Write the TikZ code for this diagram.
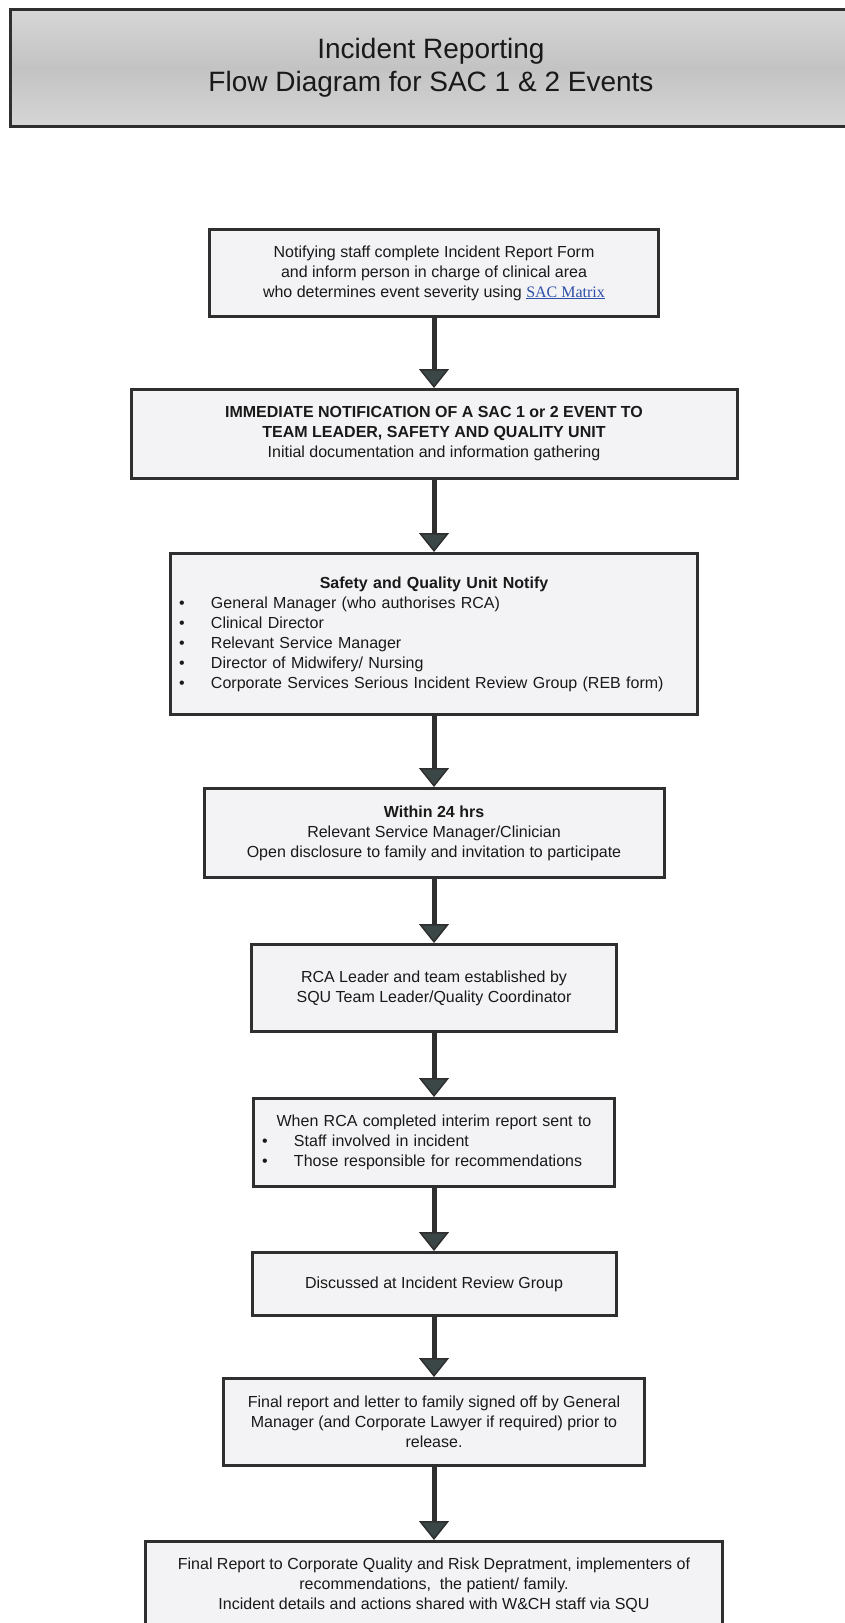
\documentclass[tikz,border=0pt]{standalone}
\usepackage{fontspec}
\setmainfont{Liberation Sans}
\newfontfamily\linkfont{Liberation Serif}
\usetikzlibrary{arrows.meta,positioning}

\definecolor{boxline}{HTML}{2F2F2F}
\definecolor{boxfill}{HTML}{F3F3F5}
\definecolor{titlegray}{HTML}{C3C3C3}
\definecolor{titlelight}{HTML}{D6D6D6}
\definecolor{headfill}{HTML}{3B4646}
\definecolor{linkblue}{HTML}{2E4FA8}

\newcommand{\bul}{\makebox[32pt][l]{\textbullet}}

\begin{document}
\begin{tikzpicture}[
      stage/.style={
        rectangle,
        draw=boxline,
        line width=3pt,
        fill=boxfill,
        align=center,
        font=\fontsize{16}{20}\selectfont,
        text=black!90
      },
      flow/.style={
        line width=5pt,
        draw=boxline,
        -{Triangle[width=30pt,length=19pt,fill=headfill,line width=1.5pt]}
      }
    ]

    \useasboundingbox (0,0) rectangle (845pt,-1623pt);
    \clip (0,0) rectangle (845pt,-1623pt);

    % Title
    \node[stage, anchor=north west, minimum width=841pt, minimum height=117pt,
      top color=titlelight, bottom color=titlelight, middle color=titlegray,
      font=\fontsize{28}{33}\selectfont] (Title) at (9pt,-8pt)
      {Incident Reporting\\Flow Diagram for SAC 1 \& 2 Events};

    % Steps
    \node[stage, minimum width=449pt, minimum height=87pt, anchor=north] (Report) at (434pt,-228pt)
      {Notifying staff complete Incident Report Form\\
       and inform person in charge of clinical area\\
       who determines event severity using {\linkfont\color{linkblue}\underline{SAC Matrix}}};
    \node[stage, minimum width=606pt, minimum height=89pt, anchor=north, yshift=-70pt] (Immediate) at (Report.south)
      {\textbf{IMMEDIATE NOTIFICATION OF A SAC 1 or 2 EVENT TO}\\
       \textbf{TEAM LEADER, SAFETY AND QUALITY UNIT}\\
       Initial documentation and information gathering};
    \node[stage, minimum width=527pt, minimum height=161pt, text width=510pt, align=left, anchor=north, yshift=-72pt] (SQUNotify) at (Immediate.south)
      {\centerline{\textbf{Safety and Quality Unit Notify}}
       \bul General Manager (who authorises RCA)\\
       \bul Clinical Director\\
       \bul Relevant Service Manager\\
       \bul Director of Midwifery/ Nursing\\
       \bul Corporate Services Serious Incident Review Group (REB form)};
    \node[stage, minimum width=460pt, minimum height=89pt, anchor=north, yshift=-71pt] (Disclose) at (SQUNotify.south)
      {\textbf{Within 24 hrs}\\
       Relevant Service Manager/Clinician\\
       Open disclosure to family and invitation to participate};
    \node[stage, minimum width=365pt, minimum height=87pt, anchor=north, yshift=-64pt] (RCATeam) at (Disclose.south)
      {RCA Leader and team established by\\
       SQU Team Leader/Quality Coordinator};
    \node[stage, minimum width=361pt, minimum height=88pt, text width=344pt, align=left, anchor=north, yshift=-64pt] (Interim) at (RCATeam.south)
      {\centerline{When RCA completed interim report sent to}
       \bul Staff involved in incident\\
       \bul Those responsible for recommendations};
    \node[stage, minimum width=364pt, minimum height=63pt, anchor=north, yshift=-63pt] (Review) at (Interim.south)
      {Discussed at Incident Review Group};
    \node[stage, minimum width=421pt, minimum height=87pt, anchor=north, yshift=-60pt] (SignOff) at (Review.south)
      {Final report and letter to family signed off by General\\
       Manager (and Corporate Lawyer if required) prior to\\
       release.};
    \node[stage, minimum width=577pt, minimum height=88pt, anchor=north, yshift=-73pt] (FinalReport) at (SignOff.south)
      {Final Report to Corporate Quality and Risk Depratment, implementers of\\
       recommendations,\ \ the patient/ family.\\
       Incident details and actions shared with W\&CH staff via SQU};

    % Arrows
    \draw[flow] (Report) -- (Immediate);
    \draw[flow] (Immediate) -- (SQUNotify);
    \draw[flow] (SQUNotify) -- (Disclose);
    \draw[flow] (Disclose) -- (RCATeam);
    \draw[flow] (RCATeam) -- (Interim);
    \draw[flow] (Interim) -- (Review);
    \draw[flow] (Review) -- (SignOff);
    \draw[flow] (SignOff) -- (FinalReport);
    \end{tikzpicture}
\end{document}
